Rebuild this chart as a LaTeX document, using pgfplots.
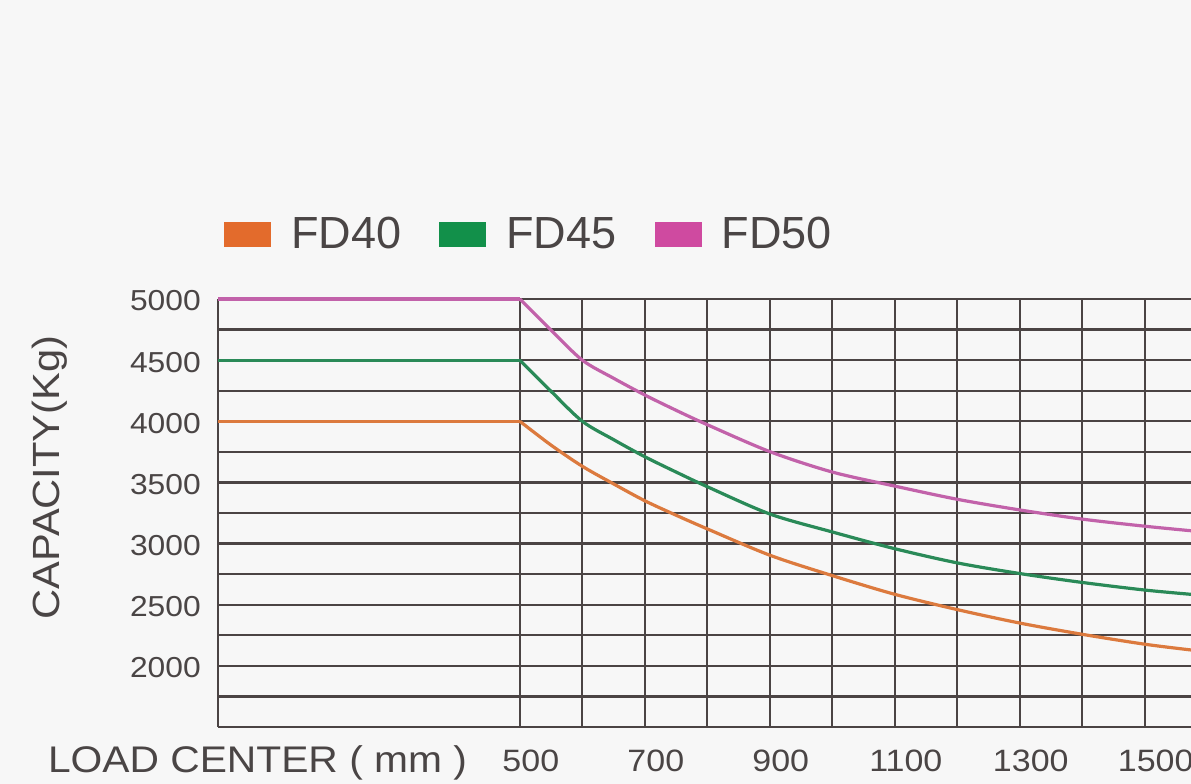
\documentclass[border=0pt]{standalone}
\usepackage{pgfplots}
\pgfplotsset{compat=1.18}
\usepackage{fontspec}
\setmainfont{Liberation Sans}
\newfontfamily\lab[FakeStretch=1.1]{Liberation Sans}
\definecolor{bgc}{HTML}{F7F7F7}
\definecolor{gridc}{HTML}{4B4444}
\definecolor{textc}{HTML}{4A4545}
\definecolor{lnO}{HTML}{DC7A3E}
\definecolor{lnG}{HTML}{2A8A58}
\definecolor{lnP}{HTML}{C262AA}
\definecolor{swO}{HTML}{E36B2C}
\definecolor{swG}{HTML}{12904A}
\definecolor{swP}{HTML}{CF4AA0}
\pagecolor{bgc}

% curve part of each model (load center mm, capacity kg)
\pgfplotstableread{
x y
500 4000
550 3805
600 3632
650 3488
700 3350
750 3232
800 3120
900 2905
1000 2738
1100 2585
1200 2460
1300 2350
1400 2258
1500 2177
1574 2130
}\fdforty
\pgfplotstableread{
x y
500 4500
550 4245
600 4000
650 3850
700 3710
750 3585
800 3465
900 3242
1000 3095
1100 2958
1200 2842
1300 2755
1400 2682
1500 2620
1574 2585
}\fdfortyfive
\pgfplotstableread{
x y
500 5000
550 4745
600 4500
650 4352
700 4215
750 4090
800 3972
900 3752
1000 3585
1100 3470
1200 3362
1300 3275
1400 3200
1500 3142
1574 3105
}\fdfifty

\begin{document}
\begin{tikzpicture}
\begin{axis}[
  name=ax,
  scale only axis,
  width=486.5bp, height=214bp,
  xmin=17, xmax=1574,
  ymin=1500, ymax=5000,
  axis lines=left,
  axis line style={-, draw=gridc, line width=1.1bp},
  xtick={500,700,...,1500},
  minor xtick={600,800,...,1400},
  ytick={2000,2500,...,5000},
  minor ytick={1750,2250,...,4750},
  grid=both,
  major grid style={draw=gridc, line width=1.1bp},
  minor grid style={draw=gridc, line width=1.1bp},
  tick style={draw=none},
  scaled ticks=false,
  /pgf/number format/1000 sep={},
  /pgf/number format/assume math mode=true,
  ticklabel style={font=\lab\fontsize{14.5}{17}\selectfont, text=textc},
  xticklabel style={anchor=base, yshift=-20bp, xshift=5.5bp,
    font=\lab\fontsize{15.5}{18}\selectfont},
  yticklabel style={anchor=east, xshift=-3bp, yshift=-1bp},
  xlabel={LOAD CENTER ( mm )},
  ylabel={CAPACITY(Kg)},
  every axis x label/.style={at={(axis description cs:0,0)}, anchor=base west,
    xshift=-88.5bp, yshift=-22.5bp, font=\lab\fontsize{18.6}{22}\selectfont, text=textc},
  every axis y label/.style={at={(axis description cs:-0.1727,0.583)}, anchor=center,
    rotate=90, font=\lab\fontsize{19}{22}\selectfont, text=textc},
  legend image code/.code={\path[#1] (0bp,-6.25bp) rectangle (23.5bp,6.25bp);},
  legend columns=3,
  legend style={draw=none, fill=none, at={(axis description cs:0,1)},
    anchor=west, xshift=3bp, yshift=32.25bp, inner sep=0pt,
    font=\fontsize{22.6}{26}\selectfont, text=textc,
    /tikz/every odd column/.append style={column sep=8bp},
    /tikz/every even column/.append style={column sep=17bp}},
  clip=false,
]
\addlegendimage{fill=swO, draw=none}
\addlegendentry{FD40}
\addlegendimage{fill=swG, draw=none}
\addlegendentry{FD45}
\addlegendimage{fill=swP, draw=none}
\addlegendentry{FD50}
% flat part up to 500 mm
\addplot[forget plot, color=lnO, line width=1.6bp] coordinates {(17,4000) (500,4000)};
\addplot[forget plot, color=lnG, line width=1.6bp] coordinates {(17,4500) (500,4500)};
\addplot[forget plot, color=lnP, line width=1.6bp] coordinates {(17,5000) (500,5000)};
% falling part
\addplot[forget plot, color=lnO, line width=1.6bp, smooth] table {\fdforty};
\addplot[forget plot, color=lnG, line width=1.6bp, smooth] table {\fdfortyfive};
\addplot[forget plot, color=lnP, line width=1.6bp, smooth] table {\fdfifty};
\end{axis}
\pgfresetboundingbox
\path ([xshift=-109bp, yshift=-28.5bp]ax.south west) rectangle ([yshift=149.5bp]ax.north east);
\end{tikzpicture}
\end{document}
